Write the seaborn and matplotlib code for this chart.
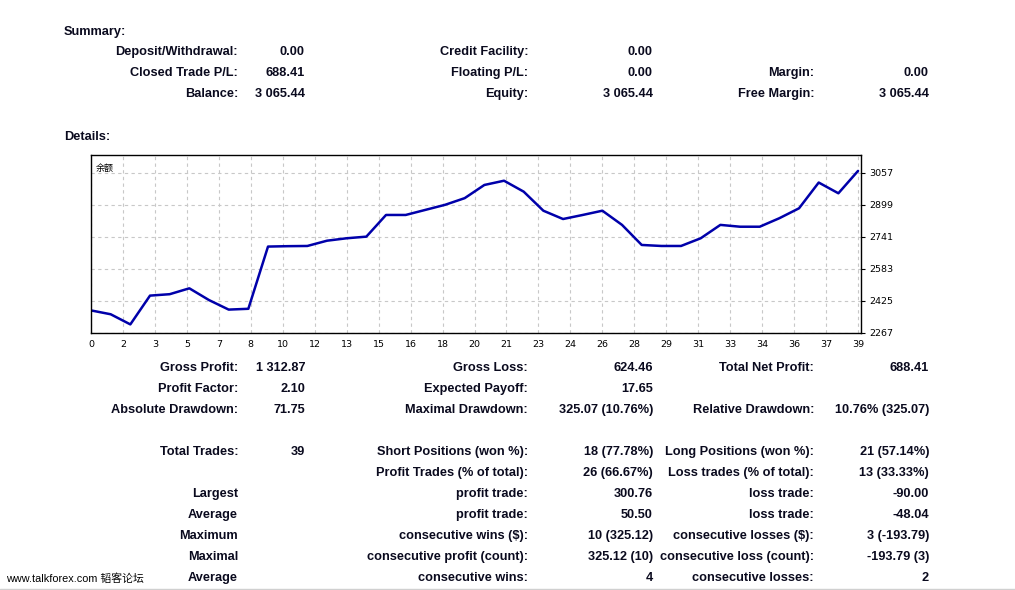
import numpy as np
import matplotlib
matplotlib.use("Agg")
import matplotlib.pyplot as plt
import seaborn as sns
import pandas as pd

# balance after each trade (trade 0 = start)
trades = list(range(40))
balance = [2377, 2358, 2308, 2450, 2457, 2486, 2428, 2381, 2385, 2692,
           2694, 2695, 2721, 2733, 2741, 2848, 2848, 2873, 2898, 2931,
           2996, 3017, 2963, 2869, 2828, 2848, 2869, 2799, 2700, 2695,
           2695, 2733, 2799, 2790, 2790, 2832, 2881, 3008, 2955, 3065.44]
x_tick_labels = ['0', '2', '3', '5', '7', '8', '10', '12', '13', '15', '16', '18', '20',
                 '21', '23', '24', '26', '28', '29', '31', '33', '34', '36', '37', '39']
y_ticks = [2267, 2425, 2583, 2741, 2899, 3057]

summary_rows = [
    ("Deposit/Withdrawal:", "0.00", "Credit Facility:", "0.00", "", ""),
    ("Closed Trade P/L:", "688.41", "Floating P/L:", "0.00", "Margin:", "0.00"),
    ("Balance:", "3 065.44", "Equity:", "3 065.44", "Free Margin:", "3 065.44"),
]
details_rows = [
    ("Gross Profit:", "1 312.87", "Gross Loss:", "624.46", "Total Net Profit:", "688.41"),
    ("Profit Factor:", "2.10", "Expected Payoff:", "17.65", "", ""),
    ("Absolute Drawdown:", "71.75", "Maximal Drawdown:", "325.07 (10.76%)",
     "Relative Drawdown:", "10.76% (325.07)"),
]
trade_rows = [
    ("Total Trades:", "39", "Short Positions (won %):", "18 (77.78%)",
     "Long Positions (won %):", "21 (57.14%)"),
    ("", "", "Profit Trades (% of total):", "26 (66.67%)",
     "Loss trades (% of total):", "13 (33.33%)"),
    ("Largest", "", "profit trade:", "300.76", "loss trade:", "-90.00"),
    ("Average", "", "profit trade:", "50.50", "loss trade:", "-48.04"),
    ("Maximum", "", "consecutive wins ($):", "10 (325.12)",
     "consecutive losses ($):", "3 (-193.79)"),
    ("Maximal", "", "consecutive profit (count):", "325.12 (10)",
     "consecutive loss (count):", "-193.79 (3)"),
    ("Average", "", "consecutive wins:", "4", "consecutive losses:", "2"),
]

W, H = 1015, 590
sns.set_style("white")
plt.rcParams['font.family'] = ['Liberation Sans', 'Noto Sans CJK SC', 'DejaVu Sans']

fig = plt.figure(figsize=(W / 100, H / 100), dpi=100)
fig.patch.set_facecolor("white")


def px(x, y):
    # y is the row centre in pixels; text sits on a whole-pixel baseline
    return x / W, 1 - (y + 4.0) / H


TXT = "#0a0a1e"
FS = 9.2
col_edges = [238, 305, 528, 653, 814, 929]


def put_rows(rows, ys):
    for row, y in zip(rows, ys):
        for text, xr in zip(row, col_edges):
            if text:
                fig.text(*px(xr, y), text, ha="right", va="baseline",
                         fontsize=FS, fontweight="bold", color=TXT)


fig.text(*px(64, 31), "Summary:", ha="left", va="baseline", fontsize=FS,
         fontweight="bold", color=TXT)
put_rows(summary_rows, [51, 72, 93])
fig.text(*px(64, 136), "Details:", ha="left", va="baseline", fontsize=FS,
         fontweight="bold", color=TXT)
put_rows(details_rows, [367, 388, 409])
put_rows(trade_rows, [451, 472, 493, 514, 535, 556, 577])

fig.text(*px(6, 578), "www.talkforex.com 韬客论坛", ha="left", va="baseline",
         fontsize=7.8, color="black",
         family=['Liberation Sans', 'Noto Sans CJK SC'])

# balance chart
ax_l, ax_r, ax_t, ax_b = 91, 861, 155, 332.7
ax = fig.add_axes([ax_l / W, 1 - ax_b / H, (ax_r - ax_l) / W, (ax_b - ax_t) / H])
df = pd.DataFrame({"trade": trades, "balance": balance})
sns.lineplot(data=df, x="trade", y="balance", ax=ax, color="#0000aa", linewidth=1.8)

n = len(trades) - 1
ax.set_xlim(0, n + 0.15)
ax.set_ylim(y_ticks[0], y_ticks[0] + (y_ticks[1] - y_ticks[0]) * 5.55)
ax.set_xticks(np.linspace(0, n, len(x_tick_labels)))
ax.set_xticklabels(x_tick_labels)
ax.set_yticks(y_ticks)
ax.yaxis.tick_right()
ax.grid(True, color="#c8c8c8", linestyle=(0, (3, 3)), linewidth=0.8)
ax.tick_params(axis="both", labelsize=6.8, colors="black", length=3, width=0.8,
               direction="out", pad=2)
ax.tick_params(axis="y", pad=3)
for lab in ax.get_xticklabels() + ax.get_yticklabels():
    lab.set_family("DejaVu Sans")
for s in ax.spines.values():
    s.set_color("black")
    s.set_linewidth(1.0)
ax.set_xlabel("")
ax.set_ylabel("")
ax.text(0.006, 0.95, "余额", transform=ax.transAxes, ha="left", va="top",
        fontsize=6.5, color="black", family=['Noto Sans CJK SC', 'DejaVu Sans'])

fig.add_artist(plt.Line2D([0, 1], [1 - 588.5 / H] * 2, color="#d0d0d0", linewidth=1))

fig.savefig("out.png", dpi=100, facecolor="white")
